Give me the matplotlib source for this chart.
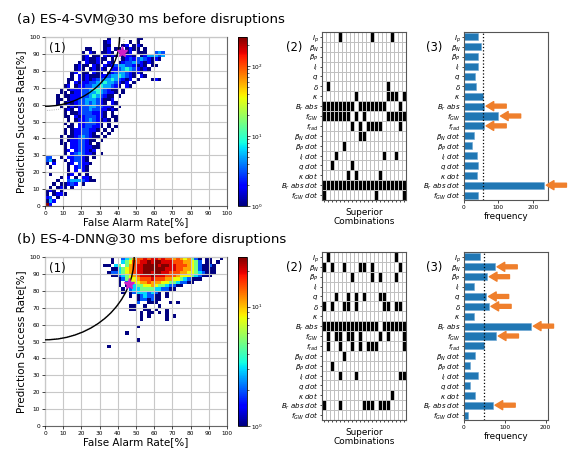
import numpy as np
import matplotlib
matplotlib.use('Agg')
import matplotlib.pyplot as plt
from matplotlib.colors import LogNorm
from matplotlib.patches import Circle

plt.rcParams['font.family'] = 'DejaVu Sans'

# ---------------- data ----------------
feature_labels = [r'$I_p$', r'$\beta_N$', r'$\beta_P$', r'$l_i$', r'$q$', r'$\delta$', r'$\kappa$',
                  r'$B_r\ abs$', r'$f_{GW}$', r'$f_{rad}$', r'$\beta_N\ dot$', r'$\beta_P\ dot$',
                  r'$l_i\ dot$', r'$q\ dot$', r'$\kappa\ dot$', r'$B_r\ abs\ dot$', r'$f_{GW}\ dot$']

# superior combinations ('#' = feature used)
svm_combos = [
    "....#.......#....#...",
    ".....................",
    ".....................",
    ".....................",
    ".....................",
    ".#..............#....",
    "........#.......###.#",
    "########.#######...#.",
    "#######.#.#.....#####",
    ".......#.#.####....#.",
    ".........##..........",
    ".....#...............",
    "...#...........#..#..",
    "..#....#.............",
    "......#.#.....#......",
    "#####################",
    "#............#......#",
]
dnn_combos = [
    ".#................#..",
    "#.#..#...##.#......#.",
    ".......#....#.#...#..",
    ".....................",
    "...#..#.#.#...##.....",
    "#.#..##.#......##.##.",
    ".....................",
    "##############.######",
    ".#.##.##.#....#.#...#",
    ".#..#..#.#.###......#",
    ".....#...............",
    "..#..................",
    "....#...#..........##",
    ".....................",
    ".................#...",
    "#...#.....###.###....",
    ".....................",
]

svm_freq = [40, 48, 42, 41, 32, 35, 56, 58, 100, 58, 29, 22, 38, 40, 39, 233, 42]
dnn_freq = [39, 76, 57, 24, 55, 61, 24, 165, 79, 48, 28, 15, 35, 15, 26, 71, 11]
svm_marked = [7, 8, 9, 15]
dnn_marked = [1, 2, 4, 5, 7, 8, 15]

# 2D histograms: one string per 2 % row, from 100 % downwards; digit = colour level
svm_levels = [1, 2, 3, 5, 9, 16, 40, 100, 250]
svm_x0 = 0
svm_hist = [
    ".................1.......11",
    "................12.....1.1",
    "................11...12.121",
    "...........11...12.11.1211.1",
    "..........1.21.1121.2.12.111..343",
    "..........12.11.2121.1221.1244434",
    "..........1211211.1..12323432121",
    ".........1.21121.21.1233432121",
    "........1211.21.212344332121.11",
    "........121.12121.22345432121",
    ".......12.11.211.1234432121",
    ".......1.2121112234454321.21",
    "......11.212123344543212.1...121",
    "......1.212233445443212.1",
    ".....12.1223344544321.21",
    "....1.12223345543211.1",
    "....11.1223344543221.1",
    "...1.11222334543211.1",
    "...11.1223344432112",
    "...1.121233434321.21",
    "....1.1212334433221.1",
    ".....121.23343322121",
    ".....1.1123332221.1",
    ".....11.212333221.11",
    "......1.1223432121.1",
    ".....1.1.2233321.1",
    "......11.2233221.1.1",
    ".....1.12233221.1.1",
    ".....1.1223321.1.1",
    "....1.112343211.1",
    "....1.12233211.1",
    "....11.223321.1",
    ".....1.22332211",
    ".....12.233212",
    ".....1.2343221.1",
    "33..1.223321.1",
    "341..1.23321",
    "1.2...12.3221",
    ".1....1.2321",
    "......1.2.21",
    ".1....12.1.1",
    "....1.2.1.221",
    "...1..34443211",
    "..1.11232.1",
    ".1.121.1",
    "121.1",
    "1.1221",
    "23.1",
    "142",
    "92",
]
svm_radius = 41.0
svm_star = (42.5, 91.0)

dnn_levels = [1, 2, 3, 5, 8, 11, 15, 20, 26]
dnn_x0 = 32
dnn_hist = [
    "..1..2346778788787767656421.11..1.",
    "..1..3457788989988877766542.11.1..",
    "11.34.4678899998998877765421121...",
    "..1134567889999998887766542111 1...".replace(' ', ''),
    ".122345678899899887776655432111...",
    "..1123456788898887776555432111....",
    "....12455677787776655432111.",
    "....1.2455667666554432211",
    "....1.1.34455654432211",
    ".....1.2334444332211",
    ".....1.123332321.1",
    ".......1.1232211.1",
    ".........1221211",
    ".........2..111...1.1",
    ".......11..1...1",
    ".......11..11.1..1",
    "..........1.11.1.1",
    "..........1.1....1.1",
    "..........1......1",
    "",
    ".........1",
    "",
    "......1",
    "",
    ".........1",
    "",
    ".1",
]
dnn_radius = 49.0
dnn_star = (46.0, 84.0)

ORANGE = '#ef7f2c'
BLUE = '#2077b4'


def hist_grid(rows, x0, levels):
    grid = np.full((50, 50), np.nan)
    b0 = x0 // 2
    for k, row in enumerate(rows):
        for i, ch in enumerate(row[:50 - b0]):
            if ch != '.':
                grid[49 - k, b0 + i] = levels[int(ch) - 1]
    return np.ma.masked_invalid(grid)


def combo_grid(rows):
    return np.array([[1.0 if c == '#' else 0.0 for c in r] for r in rows])


fig = plt.figure(figsize=(5.68, 4.49), dpi=100)
W, H = 568.0, 449.0


def rect(x0, y0, x1, y1):
    return [x0 / W, 1 - y1 / H, (x1 - x0) / W, (y1 - y0) / H]


def draw_row(top, title, rows, x0, levels, vmax, radius, star, combos, freq, marked, xmax):
    off = top
    fig.text(17 / W, 1 - (off + 19.5) / H, title, fontsize=9.6, ha='left', va='center')

    # (1) heat map
    ax = fig.add_axes(rect(45, off + 37, 227, off + 206))
    edges = np.arange(0, 101, 2)
    mesh = ax.pcolormesh(edges, edges, hist_grid(rows, x0, levels), cmap='jet',
                         norm=LogNorm(vmin=1, vmax=vmax), zorder=1)
    ax.add_patch(Circle((0, 100), np.hypot(star[0], 100 - star[1]), fill=False,
                        ec='#9a9a9a', lw=0.6, ls=':', zorder=0.5))
    ax.add_patch(Circle((0, 100), radius, fill=False, ec='black', lw=1.0, zorder=3))
    ax.plot(star[0], star[1], marker='*', color='#d020c8', ms=8, mec='#d020c8', zorder=4)
    ax.set_xlim(0, 100)
    ax.set_ylim(0, 100)
    ax.set_xticks(np.arange(0, 101, 10))
    ax.set_yticks(np.arange(0, 101, 10))
    ax.tick_params(labelsize=4.2, length=2, width=0.5, pad=1.5)
    ax.grid(True, color='#c8c8c8', lw=0.8, zorder=2)
    ax.set_axisbelow(False)
    for s in ax.spines.values():
        s.set_color('#666666')
        s.set_linewidth(0.8)
    ax.set_xlabel('False Alarm Rate[%]', fontsize=7.5, labelpad=1)
    ax.set_ylabel('Prediction Success Rate[%]', fontsize=7.5, labelpad=2)
    ax.text(0.02, 0.97, '(1)', transform=ax.transAxes, fontsize=8.5, ha='left', va='top', zorder=5)

    cax = fig.add_axes(rect(238, off + 37, 246.5, off + 206))
    cb = fig.colorbar(mesh, cax=cax)
    cb.ax.tick_params(labelsize=4.2, length=2, width=0.5, pad=1)
    cb.ax.tick_params(which='minor', length=1.2, width=0.4)
    cb.outline.set_linewidth(0.6)

    # (2) superior combinations
    mx = fig.add_axes(rect(322, off + 32, 406, off + 200))
    mat = combo_grid(combos)
    nr, nc = mat.shape
    mx.pcolormesh(np.arange(nc + 1), np.arange(nr + 1), mat, cmap='Greys', vmin=0, vmax=1,
                  edgecolors='#c0c0c0', linewidth=0.5)
    mx.set_xlim(0, nc)
    mx.set_ylim(nr, 0)
    mx.set_xticks(np.arange(nc) + 0.5)
    mx.set_xticklabels([])
    mx.set_yticks(np.arange(nr) + 0.5)
    mx.set_yticklabels(feature_labels, fontsize=5.0)
    mx.tick_params(length=1.5, width=0.5, pad=1)
    for s in mx.spines.values():
        s.set_color('#555555')
        s.set_linewidth(0.8)
    mx.set_xlabel('Superior\nCombinations', fontsize=6.4, labelpad=3, linespacing=1.1)
    fig.text(294 / W, 1 - (off + 47) / H, '(2)', fontsize=8.3, ha='center', va='center')

    # (3) frequency
    bx = fig.add_axes(rect(464, off + 32, 548, off + 200))
    ypos = np.arange(len(freq))
    bx.barh(ypos, freq, height=0.72, color=BLUE, edgecolor='#6aa5d3', linewidth=0.4)
    bx.axvline(np.mean(freq), color='black', ls=':', lw=0.9)
    for i in marked:
        bx.annotate('', xy=(freq[i], i), xytext=(16, 0), textcoords='offset points',
                    annotation_clip=False,
                    arrowprops=dict(arrowstyle='simple,head_length=0.55,head_width=0.65,tail_width=0.28',
                                    color=ORANGE, shrinkA=0, shrinkB=1.5))
    bx.set_xlim(0, xmax)
    bx.set_ylim(len(freq) - 0.5, -0.5)
    bx.set_yticks(ypos)
    bx.set_yticklabels(feature_labels, fontsize=5.0)
    bx.set_xticks([0, 100, 200])
    bx.tick_params(axis='x', labelsize=4.2, length=2, width=0.5, pad=1.5)
    bx.tick_params(axis='y', length=1.5, width=0.5, pad=1)
    for s in bx.spines.values():
        s.set_color('#555555')
        s.set_linewidth(0.8)
    bx.set_xlabel('frequency', fontsize=6.4, labelpad=1.5)
    fig.text(434 / W, 1 - (off + 47) / H, '(3)', fontsize=8.3, ha='center', va='center')


draw_row(0, '(a) ES-4-SVM@30 ms before disruptions', svm_hist, svm_x0, svm_levels, 260,
         svm_radius, svm_star, svm_combos, svm_freq, svm_marked, 244)
draw_row(220, '(b) ES-4-DNN@30 ms before disruptions', dnn_hist, dnn_x0, dnn_levels, 26,
         dnn_radius, dnn_star, dnn_combos, dnn_freq, dnn_marked, 206)

fig.savefig('out.png', dpi=100)
